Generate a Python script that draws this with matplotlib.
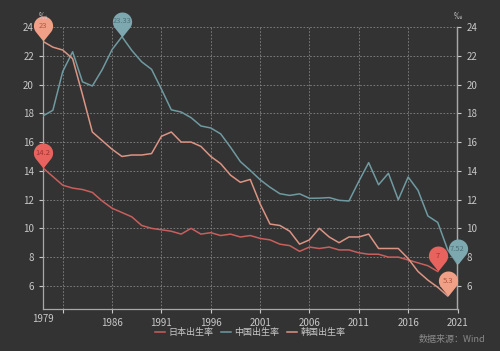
import matplotlib
matplotlib.use("Agg")
import matplotlib.pyplot as plt
import numpy as np
from matplotlib.path import Path

plt.rcParams['font.family'] = ['Noto Sans CJK SC', 'DejaVu Sans']

years = list(range(1979, 2022))

japan = [14.2, 13.6, 13.0, 12.8, 12.7, 12.5, 11.9, 11.4, 11.1, 10.8, 10.2, 10.0,
         9.9, 9.8, 9.6, 10.0, 9.6, 9.7, 9.5, 9.6, 9.4, 9.5,
         9.3, 9.2, 8.9, 8.8, 8.4, 8.7, 8.6, 8.7, 8.5, 8.5,
         8.3, 8.2, 8.2, 8.0, 8.0, 7.8, 7.6, 7.4, 7.0]
china = [17.82, 18.21, 20.91, 22.28, 20.19, 19.90, 21.04, 22.43, 23.33, 22.37, 21.58, 21.06,
         19.68, 18.24, 18.09, 17.70, 17.12, 16.98, 16.57, 15.64, 14.64, 14.03,
         13.38, 12.86, 12.41, 12.29, 12.40, 12.09, 12.10, 12.14, 11.95, 11.90,
         13.27, 14.57, 13.03, 13.83, 11.99, 13.57, 12.64, 10.86, 10.41, 8.52, 7.52]
korea = [23.0, 22.6, 22.4, 21.8, 19.3, 16.7, 16.1, 15.5, 15.0, 15.1, 15.1, 15.2,
         16.4, 16.7, 16.0, 16.0, 15.7, 15.0, 14.5, 13.7, 13.2, 13.4,
         11.7, 10.3, 10.2, 9.8, 8.9, 9.2, 10.0, 9.4, 9.0, 9.4,
         9.4, 9.6, 8.6, 8.6, 8.6, 7.9, 7.0, 6.4, 5.9, 5.3]

names = ['日本出生率', '中国出生率', '韩国出生率']
line_colors = ['#c95f5c', '#6f9aa1', '#dc9484']
pin_colors = ['#e8635e', '#7ea8b0', '#f1a088']
text_colors = ['#9a3430', '#4d7279', '#b0563f']

xtick_labels = ['1979', '1986', '1991', '1996', '2001', '2006', '2011', '2016', '2021']

bg = '#333333'
fg = '#c8c8c8'

# pin marker: tip at origin, round head above
r, d = 1.0, 1.6
a = np.degrees(np.arcsin(r / d))
angs = np.radians(np.linspace(-90 + (90 - a), 270 - (90 - a), 40))
verts = [(r * np.cos(t), d + r * np.sin(t)) for t in angs]
verts = [(0, 0)] + verts + [(0, 0)]
codes = [Path.MOVETO] + [Path.LINETO] * (len(verts) - 2) + [Path.CLOSEPOLY]
pin = Path(verts, codes)

fig = plt.figure(figsize=(5, 3.51), dpi=100, facecolor=bg)
ax = fig.add_axes([0.086, 0.12, 0.829, 0.803], facecolor=bg)

series = [japan, china, korea]
for vals, name, c in zip(series, names, line_colors):
    ax.plot(years[:len(vals)], vals, color=c, lw=1.1, label=name, zorder=3)

ax.set_xlim(1979, 2021)
ax.set_ylim(4.4, 24)
ax.set_yticks(range(6, 25, 2))
ax.set_xticks(range(1981, 2022, 5), minor=False)
ax.set_xticklabels([''] + xtick_labels[1:])
ax.tick_params(colors=fg, labelsize=7, length=3, width=0.8)
ax.text(1979, 4.4 - 0.35, xtick_labels[0], color=fg, fontsize=7, ha='center', va='top',
        transform=ax.transData)

ax.grid(True, color='#858585', lw=0.6, linestyle=(0, (2, 2)))
for s in ['top']:
    ax.spines[s].set_visible(False)
for s in ['left', 'right', 'bottom']:
    ax.spines[s].set_color('#a8a8a8')
    ax.spines[s].set_linewidth(0.9)

ax2 = ax.twinx()
ax2.set_ylim(4.4, 24)
ax2.set_yticks(range(6, 25, 2))
ax2.tick_params(colors=fg, labelsize=7, length=3, width=0.8)
for s in ['top', 'left', 'bottom']:
    ax2.spines[s].set_visible(False)
ax2.spines['right'].set_color('#a8a8a8')
ax2.spines['right'].set_linewidth(0.9)

fig.text(0.086, 0.952, '‰', color=fg, fontsize=6, ha='center', va='center')
fig.text(0.915, 0.952, '‰', color=fg, fontsize=6, ha='center', va='center')

# pins at max / min of each series
for i, vals in enumerate(series):
    yrs = years[:len(vals)]
    for idx in [int(np.argmax(vals)), int(np.argmin(vals))]:
        ax2.plot(yrs[idx], vals[idx], marker=pin, markersize=36, color=pin_colors[i],
                 markeredgewidth=0, clip_on=False, zorder=10)
        lab = ('%g' % vals[idx])
        ax2.annotate(lab, (yrs[idx], vals[idx]), xytext=(0, 11.1), textcoords='offset points',
                     ha='center', va='center', fontsize=5.5, color=text_colors[i],
                     zorder=11, annotation_clip=False)

leg = ax.legend(loc='upper center', bbox_to_anchor=(0.5, -0.04), ncol=3, frameon=False,
                fontsize=6.5, labelcolor=fg, handlelength=1.1, handletextpad=0.4,
                columnspacing=0.8)

fig.text(0.97, 0.02, '数据来源：Wind', color='#8a8a8a', fontsize=6.5, ha='right', va='bottom')

fig.savefig('out.png', dpi=100, facecolor=bg)
